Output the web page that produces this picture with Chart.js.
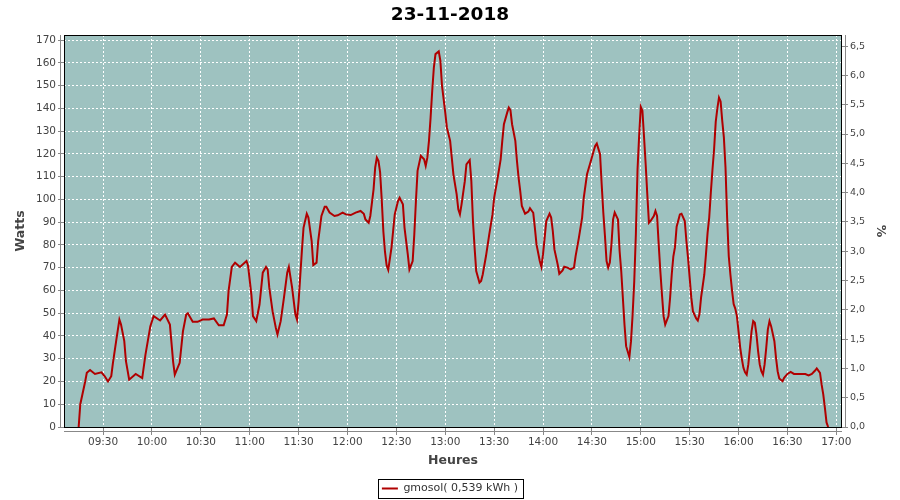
<!DOCTYPE html>
<html>
<head>
<meta charset="utf-8">
<script src="https://cdn.jsdelivr.net/npm/chart.js@4.4.0/dist/chart.umd.min.js"></script>
<style>
    html, body { margin: 0; padding: 0; background: #ffffff; }
</style>
</head>
<body>
<canvas id="chart" width="900" height="500"></canvas>
<script>
// --- DATA ---
const chartTitle = '23-11-2018';
const seriesLabel = 'gmosol( 0,539 kWh )';

const times = [
    '9:15', '9:16', '9:19', '9:20', '9:22', '9:25', '9:29', '9:31', '9:33', '9:35',
    '9:36', '9:38', '9:40', '9:41', '9:43', '9:44', '9:46', '9:50', '9:54', '9:56',
    '9:59', '10:01', '10:05', '10:08', '10:11', '10:13', '10:14', '10:17', '10:19', '10:21',
    '10:22', '10:25', '10:28', '10:31', '10:35', '10:38', '10:41', '10:44', '10:46', '10:47',
    '10:49', '10:51', '10:54', '10:58', '10:59', '11:01', '11:02', '11:04', '11:06', '11:08',
    '11:10', '11:11', '11:12', '11:14', '11:16', '11:17', '11:19', '11:21', '11:23', '11:24',
    '11:26', '11:28', '11:29', '11:30', '11:32', '11:33', '11:35', '11:36', '11:38', '11:39',
    '11:41', '11:42', '11:44', '11:46', '11:47', '11:49', '11:52', '11:54', '11:57', '11:59',
    '12:02', '12:05', '12:08', '12:10', '12:11', '12:13', '12:14', '12:16', '12:17', '12:18',
    '12:19', '12:20', '12:21', '12:22', '12:23', '12:24', '12:25', '12:27', '12:29', '12:31',
    '12:32', '12:34', '12:35', '12:37', '12:38', '12:40', '12:41', '12:42', '12:43', '12:45',
    '12:47', '12:48', '12:49', '12:50', '12:51', '12:52', '12:53', '12:54', '12:56', '12:57',
    '12:58', '13:00', '13:01', '13:03', '13:04', '13:05', '13:07', '13:08', '13:09', '13:10',
    '13:12', '13:13', '13:15', '13:16', '13:17', '13:18', '13:19', '13:21', '13:22', '13:23',
    '13:25', '13:27', '13:29', '13:30', '13:32', '13:34', '13:35', '13:36', '13:38', '13:39',
    '13:40', '13:41', '13:43', '13:44', '13:45', '13:46', '13:47', '13:49', '13:51', '13:52',
    '13:54', '13:55', '13:56', '13:58', '13:59', '14:00', '14:01', '14:02', '14:04', '14:05',
    '14:06', '14:07', '14:09', '14:10', '14:12', '14:13', '14:15', '14:17', '14:19', '14:20',
    '14:22', '14:24', '14:25', '14:27', '14:29', '14:31', '14:32', '14:33', '14:35', '14:36',
    '14:37', '14:38', '14:39', '14:40', '14:41', '14:42', '14:43', '14:44', '14:46', '14:47',
    '14:48', '14:49', '14:50', '14:51', '14:53', '14:54', '14:55', '14:56', '14:57', '14:58',
    '14:59', '15:00', '15:01', '15:02', '15:03', '15:04', '15:05', '15:06', '15:08', '15:09',
    '15:10', '15:11', '15:12', '15:13', '15:14', '15:15', '15:17', '15:18', '15:19', '15:20',
    '15:21', '15:22', '15:24', '15:25', '15:27', '15:28', '15:29', '15:30', '15:31', '15:32',
    '15:34', '15:35', '15:36', '15:37', '15:39', '15:40', '15:41', '15:42', '15:43', '15:44',
    '15:45', '15:46', '15:47', '15:48', '15:49', '15:50', '15:51', '15:52', '15:53', '15:54',
    '15:55', '15:56', '15:57', '15:58', '15:59', '16:00', '16:01', '16:02', '16:03', '16:04',
    '16:05', '16:06', '16:07', '16:08', '16:09', '16:10', '16:11', '16:12', '16:13', '16:14',
    '16:15', '16:16', '16:17', '16:18', '16:19', '16:20', '16:22', '16:23', '16:24', '16:25',
    '16:27', '16:28', '16:30', '16:32', '16:34', '16:38', '16:41', '16:43', '16:45', '16:47',
    '16:48', '16:50', '16:51', '16:52', '16:53', '16:54', '16:55'
];

const watts = [
    0, 10, 20, 23.8, 25, 23.3, 24, 22.3, 20, 22.3,
    28, 37.7, 47.2, 45, 37.7, 29, 20.8, 23.3, 21.5, 31.8,
    44.3, 48.7, 46.8, 49.4, 45, 28.5, 23, 28.2, 42, 49.4,
    50, 46.2, 46.2, 47.2, 47.2, 47.7, 44.7, 44.7, 49.4, 59.7,
    70.3, 72.2, 70.3, 72.9, 70.7, 58.2, 48.7, 46.5, 53.8, 67.8,
    70.3, 69.2, 61.2, 50.9, 43.6, 40.6, 46.5, 56.8, 67.8, 70.3,
    61.2, 49.5, 47.2, 55.3, 77.3, 87.5, 93.7, 92, 81.7, 71.1,
    72.2, 81.7, 92.7, 96.7, 96.7, 94.2, 92.7, 93, 94.2, 93.4,
    93.1, 94.2, 94.9, 93.7, 91.2, 89.7, 92.7, 104.4, 114, 118.3,
    116.9, 112, 100, 86, 77, 71, 69, 78.8, 93.4, 99.3,
    100.7, 97.8, 87.5, 75.8, 69.2, 72.9, 84.6, 99.3, 112.5, 119.1,
    117.6, 114.7, 118.3, 125.7, 135.9, 147.7, 157.9, 163.8, 165, 160.9,
    150, 138.1, 131.5, 125.7, 118.3, 111, 102.2, 95.6, 93.4, 97.8,
    108, 115.4, 117.2, 108, 90.5, 78.8, 68.5, 63.4, 64.1, 67,
    75.1, 84.6, 93.4, 100.7, 108.8, 117.6, 125.7, 133, 138.1, 140.3,
    139.2, 133, 125.7, 116.9, 109.5, 103.7, 97.1, 93.7, 94.6, 96.1,
    94.1, 87.5, 80.2, 72.9, 70.3, 75.8, 83.1, 90.5, 93.7, 92,
    86.1, 78, 71.4, 67.3, 68.8, 70.4, 70, 69.2, 70, 75.1,
    83.1, 92, 100.7, 111, 116, 121, 123.5, 124.5, 119.8, 106.6,
    94.2, 84, 72.9, 70, 72.2, 80.2, 91.2, 94.2, 91.2, 77.3,
    68.5, 56.8, 45, 35.5, 30.7, 37.7, 49.5, 64.1, 85, 113,
    128, 140.6, 138.9, 127.4, 115.4, 102.2, 89.7, 90.5, 92.7, 94.9,
    92.7, 80.2, 68.5, 58.2, 48.7, 45, 48.7, 56.8, 67, 75,
    79, 88, 93.4, 93.7, 90.5, 81.7, 74.3, 65.6, 56.8, 50.9,
    47.7, 46.8, 49.5, 56.8, 67, 75.8, 85.3, 92, 103, 113,
    122, 134, 140, 144.7, 143, 134.5, 127.2, 114, 92, 75,
    67, 60, 54, 52, 48.7, 42, 35, 30, 26, 24,
    23, 27.5, 34.8, 42.1, 46.5, 45.8, 40.7, 33.3, 27.5, 24.5,
    23, 27.5, 34.8, 42.9, 46.5, 44.3, 37.7, 30.4, 24.5, 21.3,
    20.1, 21.6, 23.3, 24.2, 23.3, 23.3, 23.3, 22.7, 23.3, 24.8,
    25.7, 23.8, 18.6, 14.3, 8.4, 2, 0
];

// x ticks every 30 minutes, 09:30 .. 17:00
const xTickLabels = ['09:30', '10:00', '10:30', '11:00', '11:30', '12:00', '12:30', '13:00',
    '13:30', '14:00', '14:30', '15:00', '15:30', '16:00', '16:30', '17:00'];
const wattsTicks = [0, 10, 20, 30, 40, 50, 60, 70, 80, 90, 100, 110, 120, 130, 140, 150, 160, 170];
const percentTicks = [0, 0.5, 1, 1.5, 2, 2.5, 3, 3.5, 4, 4.5, 5, 5.5, 6, 6.5];

// axis ranges
const xMin = '9:06';
const xMax = '17:03.5';
const wattsMax = 172.2;
const percentMax = 6.69;

// --- HELPERS ---
function toMin(t) {
    const p = t.split(':');
    return parseInt(p[0]) * 60 + parseFloat(p[1]);
}

function fmtMin(m) {
    const h = Math.floor(m / 60);
    const mm = Math.round(m % 60);
    return String(h).padStart(2, '0') + ':' + String(mm).padStart(2, '0');
}

const FONT = "'DejaVu Sans', sans-serif";
const TICK_COLOR = '#444444';
const PLOT_BG = '#9ec2c0';

// plot background + black outline
const plotFrame = {
    id: 'plotFrame',
    beforeDraw(chart) {
        const { ctx, chartArea: a } = chart;
        ctx.save();
        ctx.fillStyle = PLOT_BG;
        ctx.fillRect(a.left, a.top, a.right - a.left, a.bottom - a.top);
        ctx.restore();
    },
    afterDraw(chart) {
        const { ctx, chartArea: a } = chart;
        ctx.save();
        ctx.strokeStyle = '#000000';
        ctx.lineWidth = 1;
        ctx.strokeRect(a.left + 0.5, a.top + 0.5, a.right - a.left - 1, a.bottom - a.top);
        // grey axis lines just outside the plot
        ctx.strokeStyle = '#888888';
        ctx.beginPath();
        ctx.moveTo(a.left - 3.5, a.top);
        ctx.lineTo(a.left - 3.5, a.bottom);
        ctx.moveTo(a.left, a.bottom + 4.5);
        ctx.lineTo(a.right, a.bottom + 4.5);
        ctx.moveTo(a.right + 3.5, a.top);
        ctx.lineTo(a.right + 3.5, a.bottom);
        ctx.stroke();

        // border round the legend
        const hb = chart.legend && chart.legend.legendHitBoxes && chart.legend.legendHitBoxes[0];
        if (hb) {
            ctx.strokeStyle = '#000000';
            ctx.strokeRect(Math.round(hb.left - 4) + 0.5, Math.round(hb.top - 4) + 0.5,
                Math.round(hb.width + 9), Math.round(hb.height + 8));
        }
        ctx.restore();
    }
};

const points = times.map((t, i) => ({ x: toMin(t), y: watts[i] }));
const xTicks = xTickLabels.map(toMin);

const ctx = document.getElementById('chart').getContext('2d');
new Chart(ctx, {
    type: 'line',
    data: {
        datasets: [{
            label: seriesLabel,
            data: points,
            borderColor: '#b00000',
            backgroundColor: '#b00000',
            borderWidth: 2,
            pointRadius: 0,
            tension: 0,
            fill: false
        }]
    },
    plugins: [plotFrame],
    options: {
        responsive: false,
        animation: false,
        layout: { padding: { left: 0, right: 0, top: 0, bottom: -4 } },
        plugins: {
            title: {
                display: true,
                text: chartTitle,
                color: '#000000',
                font: { family: FONT, size: 18.5, weight: 'bold' },
                padding: { top: 4, bottom: 8.8 }
            },
            legend: {
                position: 'bottom',
                labels: {
                    usePointStyle: true,
                    pointStyle: 'line',
                    pointStyleWidth: 16,
                    color: '#333333',
                    font: { family: FONT, size: 11 },
                    padding: 10
                }
            },
            tooltip: { enabled: false }
        },
        scales: {
            x: {
                type: 'linear',
                min: toMin(xMin),
                max: toMin(xMax),
                afterBuildTicks: s => { s.ticks = xTicks.map(v => ({ value: v })); },
                afterFit: s => { s.height = 46; },
                border: { display: false, dash: [2, 2] },
                grid: { color: '#ffffff', lineWidth: 1, tickColor: '#888888', tickLength: 8, tickBorderDash: [] },
                ticks: {
                    color: TICK_COLOR,
                    font: { family: FONT, size: 10.5 },
                    padding: 1,
                    maxRotation: 0,
                    autoSkip: false,
                    callback: v => fmtMin(v)
                },
                title: {
                    display: true,
                    text: 'Heures',
                    color: TICK_COLOR,
                    font: { family: FONT, size: 12.5, weight: 'bold' },
                    padding: { top: 4, bottom: 5 }
                }
            },
            y: {
                position: 'left',
                min: 0,
                max: wattsMax,
                afterBuildTicks: s => { s.ticks = wattsTicks.map(v => ({ value: v })); },
                afterFit: s => { s.width = 64; },
                border: { display: false, dash: [2, 2] },
                grid: { color: '#ffffff', lineWidth: 1, tickColor: '#888888', tickLength: 6, tickBorderDash: [] },
                ticks: {
                    color: TICK_COLOR,
                    font: { family: FONT, size: 10.5 },
                    padding: 2,
                    autoSkip: false
                },
                title: {
                    display: true,
                    text: 'Watts',
                    color: TICK_COLOR,
                    font: { family: FONT, size: 12.5, weight: 'bold' },
                    padding: { top: 13, bottom: 0 }
                }
            },
            y1: {
                position: 'right',
                min: 0,
                max: percentMax,
                afterBuildTicks: s => { s.ticks = percentTicks.map(v => ({ value: v })); },
                afterFit: s => { s.width = 58; },
                border: { display: false },
                grid: { drawOnChartArea: false, tickColor: '#888888', tickLength: 6 },
                ticks: {
                    color: TICK_COLOR,
                    font: { family: FONT, size: 9.5 },
                    padding: 2,
                    autoSkip: false,
                    callback: v => v.toFixed(1).replace('.', ',')
                },
                title: {
                    display: true,
                    text: '%',
                    color: TICK_COLOR,
                    font: { family: FONT, size: 12.5, weight: 'bold' },
                    padding: { top: 12, bottom: 0 }
                }
            }
        }
    }
});
</script>
</body>
</html>
